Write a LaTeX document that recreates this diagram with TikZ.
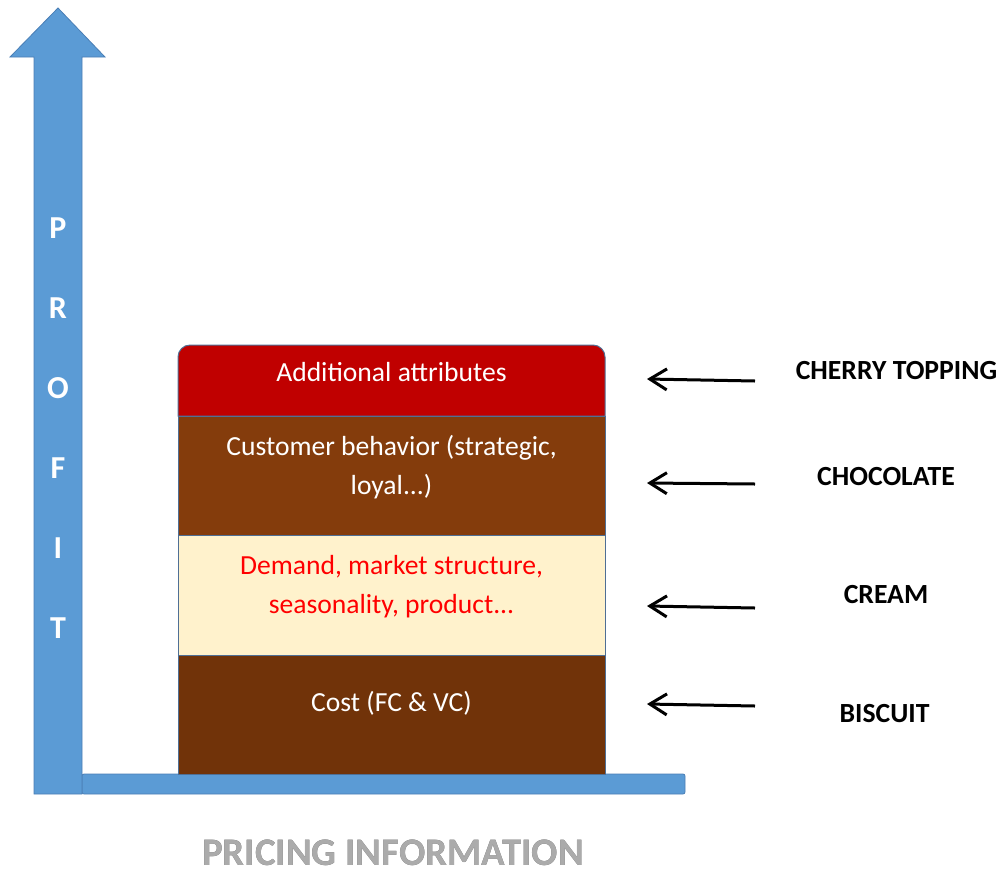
\documentclass[tikz,border=0pt]{standalone}
\usepackage{fontspec}
\setmainfont{Carlito}
\usepackage[outline]{contour}
\contourlength{1pt}
\usetikzlibrary{arrows.meta}
\definecolor{axisblue}{HTML}{5B9BD5}
\definecolor{axisedge}{HTML}{4A7EB5}
\definecolor{layerred}{HTML}{C00000}
\definecolor{choco}{HTML}{843C0C}
\definecolor{creamc}{HTML}{FFF2CC}
\definecolor{biscuitc}{HTML}{713309}
\definecolor{layeredge}{HTML}{4F6F95}
\definecolor{titlefill}{HTML}{ABABAB}
\definecolor{titleedge}{HTML}{626262}
\tikzset{
  layerbox/.style={draw=layeredge, line width=1pt, minimum width=427pt, inner sep=0pt, outer sep=0pt, align=center},
  layertext/.style={font=\fontsize{27.6}{39}\selectfont, text=white, align=center, inner sep=0pt},
  sidelabel/.style={font=\bfseries\fontsize{27.7}{30}\selectfont, text=black, inner sep=0pt},
  profitletter/.style={font=\bfseries\fontsize{32}{34}\selectfont, text=white, inner sep=0pt},
  pointer/.style={-{Straight Barb[length=17pt,width=21pt,line width=3pt]}, line width=3pt, black},
}
\begin{document}
\begin{tikzpicture}[x=1pt,y=-1pt]
\useasboundingbox (0,0) rectangle (999,871);
% horizontal axis bar
\path[fill=axisblue, draw=axisedge, line width=0.8pt, rounded corners=2pt] (82,774) rectangle (685,794);
% vertical axis arrow
\path[fill=axisblue, draw=axisedge, line width=0.8pt]
  (34,794) -- (34,57) -- (10,57) -- (58,8) -- (105,57) -- (82,57) -- (82,794) -- cycle;
% PROFIT letters
\node[profitletter] (p1) at (58,228) {P};
\node[profitletter] (p2) at (58,308) {R};
\node[profitletter] (p3) at (58,388) {O};
\node[profitletter] (p4) at (58,468) {F};
\node[profitletter] (p5) at (58,548) {I};
\node[profitletter] (p6) at (58,628) {T};
% layers
\path[fill=layerred, draw=layeredge, line width=1pt]
  (178,416) [rounded corners=12pt] -- (178,345) -- (605,345) [sharp corners] -- (605,416) -- cycle;
\node[layertext] (l1) at (391.5,372) {Additional attributes};
\node[layerbox, fill=choco, minimum height=119pt] (l2) at (391.5,475.5) {};
\node[layertext] at (391.5,467) (l2t) {Customer behavior (strategic,\\loyal...)};
\node[layerbox, fill=creamc, minimum height=120pt] (l3) at (391.5,595) {};
\node[layertext, text={red}] at (391.5,587) (l3t) {Demand, market structure,\\seasonality, product...};
\node[layerbox, fill=biscuitc, minimum height=119pt] (l4) at (391.5,714.5) {};
\node[layertext] (l4t) at (391.5,703) {Cost (FC \& VC)};
% side labels
\node[sidelabel] (s1) at (896.5,371) {CHERRY TOPPING};
\node[sidelabel] (s2) at (886,477) {CHOCOLATE};
\node[sidelabel] (s3) at (886,595) {CREAM};
\node[sidelabel] (s4) at (884.5,714) {BISCUIT};
% pointers
\coordinate (t1) at (755,381); \coordinate (h1) at (647,379);
\coordinate (t2) at (755,484); \coordinate (h2) at (647,483);
\coordinate (t3) at (755,608); \coordinate (h3) at (647,606);
\coordinate (t4) at (755,706); \coordinate (h4) at (647,704);
\draw[pointer] (t1) -- (h1);
\draw[pointer] (t2) -- (h2);
\draw[pointer] (t3) -- (h3);
\draw[pointer] (t4) -- (h4);
% title
\node[font=\bfseries\fontsize{39}{40}\selectfont, inner sep=0pt] (title) at (393,853) {\contour{titleedge}{\textcolor{titlefill}{PRICING INFORMATION}}};
\end{tikzpicture}
\end{document}
